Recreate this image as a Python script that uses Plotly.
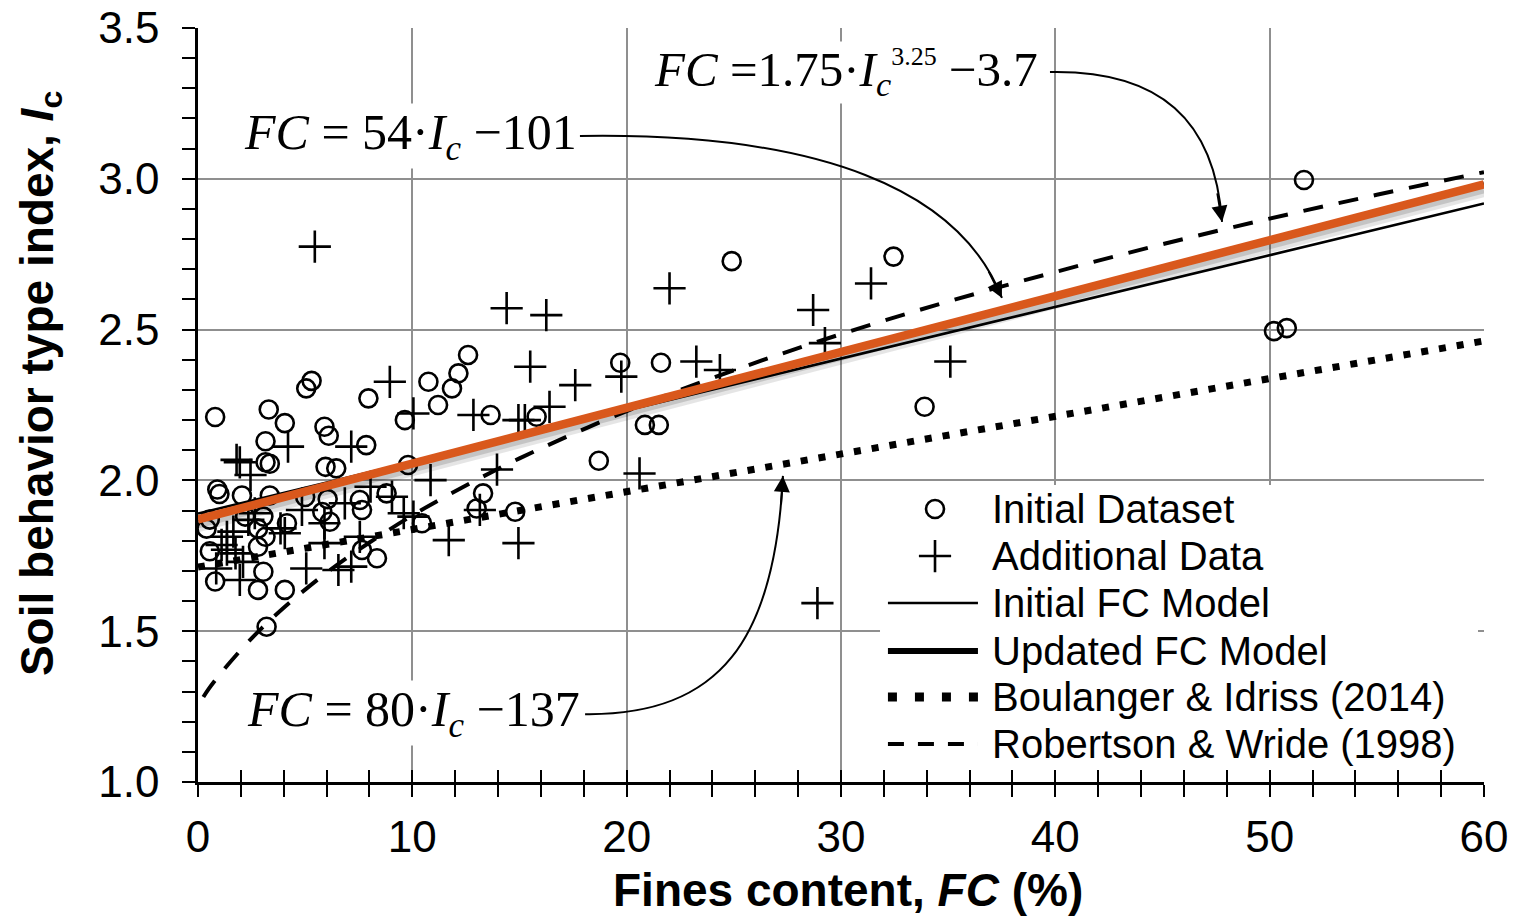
import plotly.graph_objects as go

# ---------------- data ----------------
# Initial dataset: fines content (%) and soil behaviour type index Ic
init_fc = [0.8, 3.3, 4.05, 5.05, 5.3, 5.9, 6.1, 3.15, 3.15, 3.35, 5.95, 6.45,
           0.9, 1.0, 2.05, 3.35, 5.0, 6.05, 5.8, 0.55, 0.4, 2.2, 3.05, 2.8,
           3.15, 2.8, 4.15, 0.55, 0.8, 3.05, 2.8, 4.05, 3.2, 6.15, 7.55, 7.65,
           8.8, 10.45, 8.35, 7.65, 13.3, 13.0, 14.8, 12.6, 12.15, 11.85, 10.75,
           11.2, 13.65, 7.95, 9.65, 7.85, 9.8, 15.8, 19.7, 21.6, 20.85, 21.5,
           18.7, 24.9, 32.45, 33.9, 51.6, 50.2, 50.8]
init_ic = [2.21, 2.235, 2.19, 2.305, 2.33, 2.178, 2.148, 2.13, 2.06, 2.055, 2.045, 2.04,
           1.97, 1.955, 1.95, 1.95, 1.945, 1.938, 1.895, 1.87, 1.84, 1.88, 1.88, 1.84,
           1.813, 1.78, 1.858, 1.765, 1.665, 1.697, 1.637, 1.637, 1.515, 1.863, 1.935, 1.902,
           1.957, 1.858, 1.742, 1.769, 1.957, 1.907, 1.896, 2.416, 2.355, 2.305, 2.327,
           2.25, 2.217, 2.272, 2.2, 2.117, 2.051, 2.211, 2.39, 2.39, 2.184, 2.184,
           2.065, 2.727, 2.742, 2.244, 2.996, 2.495, 2.505]

# Additional data
add_fc = [5.45, 4.2, 1.8, 1.95, 2.45, 4.85, 2.35, 1.35, 4.05, 5.9, 5.9, 2.1, 0.85,
          1.95, 5.05, 1.1, 1.65, 1.35, 1.75, 2.65, 3.85, 8.95, 10.05, 12.85, 14.95,
          7.15, 10.85, 13.95, 8.05, 9.05, 6.85, 9.6, 10.05, 13.15, 7.55, 11.7, 6.55,
          7.15, 14.95, 14.4, 16.25, 22.0, 15.5, 17.6, 19.75, 23.25, 16.4, 15.25,
          20.6, 28.7, 31.4, 24.35, 29.25, 35.1, 28.9]
add_ic = [2.775, 2.112, 2.068, 2.06, 2.018, 1.902, 1.869, 1.813, 1.825, 1.858, 1.792, 1.73, 1.708,
          1.67, 1.708, 1.786, 1.83, 1.77, 1.758, 1.891, 1.841, 2.327, 2.222, 2.217, 2.2,
          2.112, 2.001, 2.036, 1.979, 1.946, 1.924, 1.891, 1.88, 1.902, 1.813, 1.802, 1.703,
          1.714, 1.792, 2.571, 2.548, 2.637, 2.377, 2.316, 2.344, 2.394, 2.244, 2.2,
          2.023, 2.565, 2.653, 2.366, 2.455, 2.394, 1.593]

# Model curves
model_fc = [0, 60]
initial_model_ic = [1.89, 2.918]
updated_model_ic = [1.8704, 2.9815]
bi_ic = [1.7125, 2.4625]

rw_fc = [0.25, 0.5, 1, 2, 3, 4, 5, 6, 7, 8, 10, 12, 15, 20, 25, 30, 35, 40, 45, 50, 55, 60]
rw_ic = [1.282, 1.309, 1.355, 1.438, 1.512, 1.578, 1.638, 1.694, 1.746, 1.794, 1.884,
         1.964, 2.073, 2.230, 2.365, 2.485, 2.593, 2.691, 2.783, 2.868, 2.947, 3.022]

legend_labels = ["Initial Dataset", "Additional Data", "Initial FC Model",
                 "Updated FC Model", "Boulanger & Idriss (2014)", "Robertson & Wride (1998)"]

# legend panel corners in data units (FC, Ic)
legend_box_fc = [31.82, 59.72, 59.72, 31.82, 31.82]
legend_box_ic = [1.0232, 1.0232, 1.985, 1.985, 1.0232]

x_ticks = [0, 10, 20, 30, 40, 50, 60]
y_ticks = [1.0, 1.5, 2.0, 2.5, 3.0, 3.5]

SANS = "Liberation Sans, Arial, sans-serif"
SERIF = "Liberation Serif, Times New Roman, serif"
ORANGE = "#d9581c"
CIRCLE = dict(symbol="circle-open", size=18, color="black", line=dict(width=2.6, color="black"))
PLUS = dict(symbol="cross-thin-open", size=23, color="black", line=dict(width=2.6, color="black"))

fig = go.Figure()

# white panel behind the legend (hides the grid there)
fig.add_trace(go.Scatter(x=legend_box_fc, y=legend_box_ic, mode="lines", fill="toself",
                         fillcolor="white", line=dict(width=0, color="white"),
                         showlegend=False, hoverinfo="skip"))

# ---------------- data points ----------------
fig.add_trace(go.Scatter(x=init_fc, y=init_ic, mode="markers", showlegend=False, marker=CIRCLE))
fig.add_trace(go.Scatter(x=add_fc, y=add_ic, mode="markers", showlegend=False, marker=PLUS))

# ---------------- model lines ----------------
fig.add_trace(go.Scatter(x=model_fc, y=bi_ic, mode="lines", showlegend=False,
                         line=dict(color="black", width=7, dash="7px,11px")))
fig.add_trace(go.Scatter(x=rw_fc, y=rw_ic, mode="lines", showlegend=False, line_shape="spline",
                         line=dict(color="black", width=4, dash="20px,16px")))
fig.add_trace(go.Scatter(x=model_fc, y=initial_model_ic, mode="lines", showlegend=False,
                         line=dict(color="black", width=2.6)))
fig.add_trace(go.Scatter(x=model_fc, y=updated_model_ic, mode="lines", showlegend=False,
                         line=dict(color="black", width=6)))
# soft drop shadow under the highlighted updated model
for off, alpha, w in [(0.022, 0.10, 12), (0.018, 0.14, 7)]:
    fig.add_trace(go.Scatter(x=model_fc, y=[v - off for v in updated_model_ic], mode="lines",
                             showlegend=False, hoverinfo="skip",
                             line=dict(color=f"rgba(0,0,0,{alpha})", width=w)))
fig.add_trace(go.Scatter(x=model_fc, y=updated_model_ic, mode="lines", showlegend=False,
                         line=dict(color=ORANGE, width=8.5)))

# dummy trace so the inside-tick overlay axis is drawn
fig.add_trace(go.Scatter(x=[None], y=[None], xaxis="x2", yaxis="y", showlegend=False,
                         hoverinfo="skip"))

# ---------------- legend (drawn on a 0..1 overlay axis) ----------------
row_y = [0.3621, 0.2997, 0.2374, 0.1737, 0.1127, 0.0504]
sym_x = 0.5731
seg = [0.5365, 0.6065]
fig.add_trace(go.Scatter(x=[sym_x], y=[row_y[0]], xaxis="x3", yaxis="y3", mode="markers",
                         showlegend=False, hoverinfo="skip", marker=CIRCLE))
fig.add_trace(go.Scatter(x=[sym_x], y=[row_y[1]], xaxis="x3", yaxis="y3", mode="markers",
                         showlegend=False, hoverinfo="skip", marker=PLUS))
leg_lines = [(row_y[2], dict(color="black", width=2.6)),
             (row_y[3], dict(color="black", width=6)),
             (row_y[4], dict(color="black", width=9, dash="9px,18px")),
             (row_y[5], dict(color="black", width=4, dash="16px,14px"))]
for yy, ln in leg_lines:
    fig.add_trace(go.Scatter(x=seg, y=[yy, yy], xaxis="x3", yaxis="y3", mode="lines",
                             showlegend=False, hoverinfo="skip", line=ln))
for yy, lab in zip(row_y, legend_labels):
    fig.add_annotation(xref="paper", yref="paper", x=0.6159, y=yy, text=lab, showarrow=False,
                       xanchor="left", yanchor="middle", font=dict(family=SANS, size=40, color="black"))

# ---------------- equation labels with curved leaders ----------------
fig.add_annotation(xref="paper", yref="paper", x=0.3535, y=0.9416, xanchor="left", yanchor="middle",
                   text=("<i>FC</i> =1.75·<i>I</i><sub><i>c</i></sub>"
                         "<sup><span style='font-size:26px'>3.25</span></sup> −3.7"),
                   showarrow=False, bgcolor="white", borderpad=0,
                   font=dict(family=SERIF, size=49, color="black"))
fig.add_annotation(xref="paper", yref="paper", x=0.035, y=0.857, xanchor="left", yanchor="middle",
                   text="<i>FC</i> = 54·<i>I</i><sub><i>c</i></sub> −101",
                   showarrow=False, bgcolor="white", borderpad=0,
                   font=dict(family=SERIF, size=50, color="black"))
fig.add_annotation(xref="paper", yref="paper", x=0.0373, y=0.0915, xanchor="left", yanchor="middle",
                   text="<i>FC</i> = 80·<i>I</i><sub><i>c</i></sub> −137",
                   showarrow=False, bgcolor="white", borderpad=0,
                   font=dict(family=SERIF, size=50, color="black"))

leaders = [
    "M 39.75,3.354 C 44.88,3.361 47.45,3.195 47.78,2.857",
    "M 17.82,3.142 C 29.02,3.155 35.55,2.963 37.51,2.605",
    "M 18.06,1.225 C 24.36,1.219 26.92,1.471 27.29,2.015",
]
for p in leaders:
    fig.add_shape(type="path", xref="x", yref="y", path=p, line=dict(color="black", width=2))
heads = [(47.78, 2.857, -5, -30), (37.51, 2.605, -14, -28), (27.29, 2.015, -2, 30)]
for hx, hy, ax, ay in heads:
    fig.add_annotation(x=hx, y=hy, xref="x", yref="y", text="", showarrow=True, arrowhead=2,
                       arrowsize=1.6, arrowwidth=2, arrowcolor="black", ax=ax, ay=ay, standoff=0)

# ---------------- axis titles ----------------
title_font = dict(family=SANS, size=46, color="black")
fig.add_annotation(xref="paper", yref="paper", x=0.5054, y=-0.1432, xanchor="center",
                   yanchor="middle", showarrow=False, font=title_font,
                   text="<b>Fines content, <i>FC</i> (%)</b>")
fig.add_annotation(xref="paper", yref="paper", x=-0.1229, y=0.529, xanchor="center",
                   yanchor="middle", showarrow=False, font=title_font, textangle=-90,
                   text="<b>Soil behavior type index, <i>I</i><sub>c</sub></b>")

# ---------------- axes ----------------
fig.update_layout(
    width=1520, height=920,
    margin=dict(l=198, r=36, t=28, b=138, autoexpand=False),
    paper_bgcolor="white", plot_bgcolor="white",
    showlegend=False,
    xaxis=dict(range=[0, 60], tickvals=x_ticks, showgrid=True, gridcolor="#8f8f8f", gridwidth=2,
               zeroline=False, showline=True, linecolor="black", linewidth=2.5, automargin=False,
               ticks="outside", ticklen=12, tickwidth=2, tickcolor="black",
               minor=dict(dtick=2, tick0=0, ticks="outside", ticklen=12, tickwidth=2,
                          tickcolor="black", showgrid=False),
               tickfont=dict(family=SANS, size=44, color="black"), ticklabelstandoff=2),
    xaxis2=dict(range=[0, 60], overlaying="x", anchor="y", side="bottom", showgrid=False,
                zeroline=False, showline=False, showticklabels=False, automargin=False,
                tickvals=list(range(0, 61, 2)), ticks="inside", ticklen=12, tickwidth=2,
                tickcolor="black"),
    yaxis=dict(range=[1, 3.5], tickvals=y_ticks, tickformat=".1f", showgrid=True,
               gridcolor="#8f8f8f", gridwidth=2, zeroline=False, showline=True, automargin=False,
               linecolor="black", linewidth=2.5, ticks="outside", ticklen=13, tickwidth=2,
               tickcolor="black",
               minor=dict(dtick=0.1, tick0=1.0, ticks="outside", ticklen=13, tickwidth=2,
                          tickcolor="black", showgrid=False),
               tickfont=dict(family=SANS, size=44, color="black"), ticklabelstandoff=14),
    xaxis3=dict(range=[0, 1], overlaying="x", anchor="y3", visible=False, fixedrange=True),
    yaxis3=dict(range=[0, 1], overlaying="y", anchor="x3", visible=False, fixedrange=True),
)

fig.write_html("out.html")
